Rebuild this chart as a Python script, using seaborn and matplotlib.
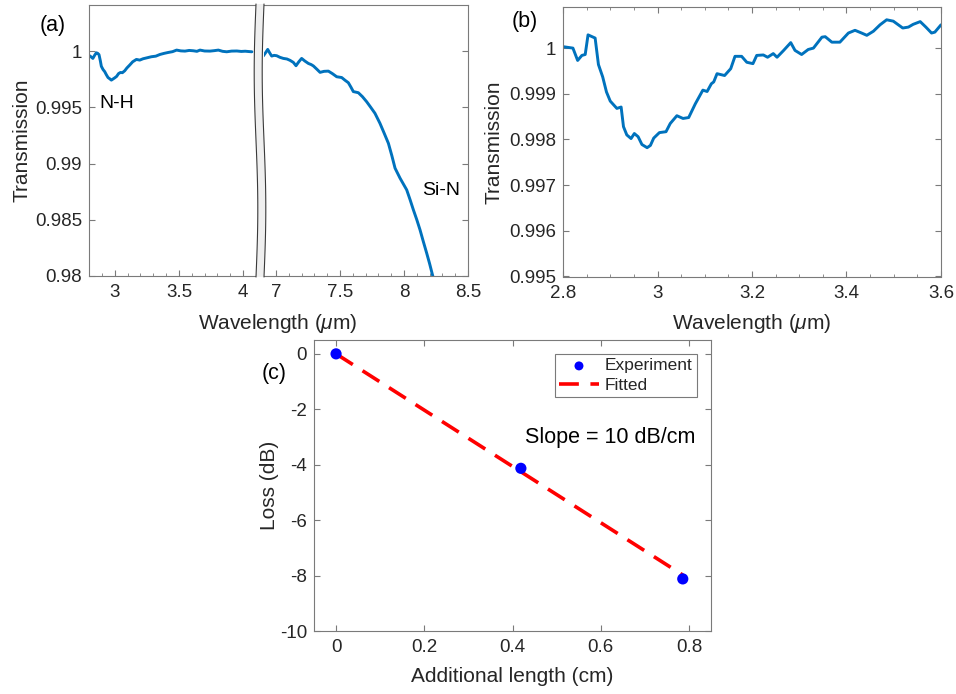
import matplotlib
matplotlib.use('Agg')
import matplotlib.pyplot as plt
from matplotlib.patches import Polygon
from matplotlib.lines import Line2D
from matplotlib.ticker import FuncFormatter, MultipleLocator
import numpy as np
import seaborn as sns

# (a) short-wavelength window (um, transmission)
wl_a1 = [2.80, 2.815, 2.83, 2.845, 2.857, 2.868, 2.878, 2.888, 2.896, 2.91, 2.922, 2.935,
         2.948, 2.96, 2.974, 2.987, 3.0, 3.015, 3.03, 3.045, 3.06, 3.078, 3.095, 3.117,
         3.14, 3.169, 3.195, 3.221, 3.25, 3.286, 3.32, 3.352, 3.385, 3.417, 3.45, 3.482,
         3.515, 3.547, 3.58, 3.612, 3.64, 3.664, 3.7, 3.742, 3.775, 3.807, 3.84, 3.872,
         3.91, 3.951, 3.985, 4.016, 4.045, 4.068]
tr_a1 = [0.99962, 0.99950, 0.99935, 0.99965, 0.99985, 0.99980, 0.99968, 0.99915, 0.99865,
         0.99835, 0.99818, 0.99790, 0.99765, 0.99755, 0.99742, 0.99752, 0.99762, 0.99775,
         0.99800, 0.99810, 0.99808, 0.99825, 0.99850, 0.99876, 0.99905, 0.99926, 0.99920,
         0.99932, 0.99940, 0.99950, 0.99955, 0.99970, 0.99980, 0.99988, 0.99995, 1.00009,
         1.00002, 1.00000, 1.00006, 1.00003, 0.99998, 1.00009, 1.00001, 1.00000, 1.00004,
         1.00009, 0.99998, 0.99994, 1.00000, 1.00001, 0.99997, 0.99999, 0.99996, 0.99994]

# (a) long-wavelength window
wl_a2 = [6.90, 6.918, 6.935, 6.95, 6.966, 6.985, 7.005, 7.03, 7.057, 7.085, 7.109, 7.135,
         7.156, 7.178, 7.2, 7.225, 7.253, 7.275, 7.292, 7.318, 7.344, 7.375, 7.409, 7.44,
         7.474, 7.513, 7.54, 7.565, 7.585, 7.604, 7.643, 7.675, 7.708, 7.74, 7.773, 7.812,
         7.845, 7.878, 7.905, 7.93, 7.969, 8.021, 8.047, 8.073, 8.1, 8.125, 8.15, 8.177,
         8.2, 8.224, 8.25]
tr_a2 = [0.99956, 0.99985, 1.00015, 0.99985, 0.99956, 0.99962, 0.99959, 0.99945, 0.99935,
         0.99930, 0.99918, 0.99900, 0.99870, 0.99905, 0.99935, 0.99912, 0.99890, 0.99880,
         0.99868, 0.99840, 0.99811, 0.99820, 0.99822, 0.99800, 0.99772, 0.99765, 0.99740,
         0.99719, 0.99680, 0.99640, 0.99630, 0.99595, 0.99550, 0.99500, 0.99447, 0.99358,
         0.99270, 0.99180, 0.99070, 0.98959, 0.98870, 0.98766, 0.98680, 0.98589, 0.98500,
         0.98411, 0.98310, 0.98204, 0.98110, 0.98003, 0.97900]

# (b) zoom on the N-H band
wl_b = [2.801, 2.821, 2.831, 2.840, 2.847, 2.853, 2.868, 2.875, 2.884, 2.892, 2.900, 2.914,
        2.923, 2.928, 2.935, 2.944, 2.951, 2.959, 2.967, 2.978, 2.985, 2.992, 3.004, 3.018,
        3.027, 3.041, 3.054, 3.066, 3.080, 3.096, 3.105, 3.114, 3.119, 3.126, 3.142, 3.155,
        3.164, 3.178, 3.189, 3.202, 3.210, 3.224, 3.233, 3.245, 3.253, 3.267, 3.282, 3.291,
        3.305, 3.319, 3.330, 3.348, 3.355, 3.369, 3.386, 3.404, 3.418, 3.432, 3.443, 3.457,
        3.471, 3.485, 3.499, 3.519, 3.531, 3.541, 3.556, 3.568, 3.580, 3.587, 3.600]
tr_b = [1.00003, 1.00000, 0.99973, 0.99984, 0.99986, 1.00029, 1.00022, 0.99964, 0.99937,
        0.99904, 0.99884, 0.99868, 0.99871, 0.99828, 0.99810, 0.99802, 0.99813, 0.99806,
        0.99789, 0.99782, 0.99787, 0.99803, 0.99815, 0.99817, 0.99835, 0.99852, 0.99846,
        0.99848, 0.99878, 0.99908, 0.99905, 0.99922, 0.99926, 0.99944, 0.99940, 0.99955,
        0.99982, 0.99982, 0.99969, 0.99966, 0.99984, 0.99985, 0.99980, 0.99988, 0.99980,
        0.99995, 1.00012, 0.99995, 0.99986, 0.99997, 1.00000, 1.00024, 1.00025, 1.00013,
        1.00013, 1.00033, 1.00039, 1.00033, 1.00028, 1.00037, 1.00051, 1.00062, 1.00059,
        1.00044, 1.00046, 1.00052, 1.00058, 1.00046, 1.00033, 1.00035, 1.00051]

# (c) cut-back loss
len_exp = [0.0, 0.419, 0.786]
loss_exp = [0.0, -4.13, -8.12]
len_fit = [0.0, 0.786]
loss_fit = [0.0, -7.98]

sns.set_style('ticks')
plt.rcParams['font.family'] = ['Liberation Sans', 'DejaVu Sans']
plt.rcParams['mathtext.fontset'] = 'custom'
plt.rcParams['mathtext.rm'] = 'Liberation Sans'
plt.rcParams['mathtext.it'] = 'Liberation Sans:italic'
plt.rcParams['axes.unicode_minus'] = False

W, H = 956, 694
TXT = '#262626'
EDGE = '#7a7a7a'
BLUE = '#0072BD'


def box(x0, y0, x1, y1):
    return [x0 / W, 1 - y1 / H, (x1 - x0) / W, (y1 - y0) / H]


def style(ax, left=True, right=True, top=True):
    for s in ax.spines.values():
        s.set_color(EDGE)
        s.set_linewidth(0.8)
    ax.spines['left'].set_visible(left)
    ax.spines['right'].set_visible(right)
    ax.tick_params(which='both', direction='in', color=EDGE, labelcolor=TXT,
                   labelsize=13.5, top=top, right=right, left=left, bottom=True)
    ax.tick_params(which='major', length=4, width=0.8)
    ax.tick_params(which='minor', length=2.5, width=0.6)
    ax.tick_params(axis='x', pad=6)
    ax.tick_params(axis='y', pad=5)
    fmt = FuncFormatter(lambda v, p: f'{v:g}')
    ax.xaxis.set_major_formatter(fmt)
    ax.yaxis.set_major_formatter(fmt)
    ax.set_facecolor('white')


fig = plt.figure(figsize=(9.56, 6.94), dpi=100)

# ---- panel (a): broken x axis ----
axa1 = fig.add_axes(box(89, 5, 256, 276))
axa2 = fig.add_axes(box(264, 5, 468, 276))
sns.lineplot(x=wl_a1, y=tr_a1, ax=axa1, color=BLUE, lw=2.1, estimator=None, sort=False)
sns.lineplot(x=wl_a2, y=tr_a2, ax=axa2, color=BLUE, lw=2.1, estimator=None, sort=False)
for ax in (axa1, axa2):
    ax.set_ylim(0.98, 1.0041)
    ax.set_yticks([0.98, 0.985, 0.99, 0.995, 1.0])
    ax.xaxis.set_minor_locator(MultipleLocator(0.1))
axa1.set_xlim(2.8, 4.1)
axa1.set_xticks([3, 3.5, 4])
axa2.set_xlim(6.906, 8.5)
axa2.set_xticks([7, 7.5, 8, 8.5])
style(axa1, right=False, top=False)
style(axa2, left=False, top=False)
axa2.tick_params(axis='y', labelleft=False, labelright=False)
axa1.set_ylabel('Transmission', fontsize=15, color=TXT)
axa1.yaxis.set_label_coords(-0.345, 0.5)
axa1.text(2.878, 0.9953, 'N-H', fontsize=14, color='black', va='center', ha='left')
axa2.text(8.14, 0.98763, 'Si-N', fontsize=14, color='black', va='center', ha='left')
fig.text(278 / W, 1 - 312 / H, 'Wavelength ($\\mu$m)', fontsize=15, color=TXT,
         ha='center', va='top')

# break marker: light band with wavy dark sides
t = np.linspace(0, 1, 60)
py = 4 + t * 273
xl = 256 - 1.8 * np.sin(2 * np.pi * t)
xr = xl + 8
pts = np.concatenate([np.column_stack([xl, py]), np.column_stack([xr, py])[::-1]])
pts = np.column_stack([pts[:, 0] / W, 1 - pts[:, 1] / H])
fig.patches.append(Polygon(pts, closed=True, transform=fig.transFigure,
                           facecolor='#efefef', edgecolor='none', zorder=5))
for xe in (xl, xr):
    fig.lines.append(Line2D(xe / W, 1 - py / H, transform=fig.transFigure,
                            color='#3a3a3a', lw=0.8, zorder=6))

# ---- panel (b) ----
axb = fig.add_axes(box(563, 7, 941, 276.5))
sns.lineplot(x=wl_b, y=tr_b, ax=axb, color=BLUE, lw=2.1, estimator=None, sort=False)
axb.set_xlim(2.8, 3.6)
axb.set_ylim(0.995, 1.0009)
axb.set_xticks([2.8, 3.0, 3.2, 3.4, 3.6])
axb.set_yticks([0.995, 0.996, 0.997, 0.998, 0.999, 1.0])
axb.xaxis.set_minor_locator(MultipleLocator(0.05))
style(axb)
axb.set_xlabel('Wavelength ($\\mu$m)', fontsize=15, color=TXT)
axb.xaxis.set_label_coords(0.5, -0.13)
axb.set_ylabel('Transmission', fontsize=15, color=TXT)
axb.yaxis.set_label_coords(-0.158, 0.5)

# ---- panel (c) ----
axc = fig.add_axes(box(314, 340, 711, 631))
sns.scatterplot(x=len_exp, y=loss_exp, ax=axc, color='#0000ff', s=65, edgecolor='none',
                label='Experiment', zorder=4)
sns.lineplot(x=len_fit, y=loss_fit, ax=axc, color='#ff0000', lw=2.6,
             linestyle=(0, (5.5, 3.2)), label='Fitted', zorder=3)
axc.set_xlim(-0.05, 0.85)
axc.set_ylim(-10, 0.5)
axc.set_xticks([0, 0.2, 0.4, 0.6, 0.8])
axc.set_yticks([-10, -8, -6, -4, -2, 0])
style(axc)
axc.set_xlabel('Additional length (cm)', fontsize=15, color=TXT)
axc.xaxis.set_label_coords(0.5, -0.125)
axc.set_ylabel('Loss (dB)', fontsize=15, color=TXT)
axc.yaxis.set_label_coords(-0.088, 0.5)
leg = axc.legend(loc='upper right', bbox_to_anchor=(0.965, 0.952), borderaxespad=0,
                 fontsize=12.5, fancybox=False, framealpha=1, edgecolor=EDGE,
                 handlelength=2.3, handletextpad=0.35, labelspacing=0.25,
                 borderpad=0.25, markerscale=0.8)
leg.get_frame().set_linewidth(0.8)
fig.text(525 / W, 1 - 438 / H, 'Slope = 10 dB/cm', fontsize=15.5, color='black',
         ha='left', va='center')

# panel letters
fig.text(40 / W, 1 - 26 / H, '(a)', fontsize=15.5, color='black', ha='left', va='center')
fig.text(512 / W, 1 - 22 / H, '(b)', fontsize=15.5, color='black', ha='left', va='center')
fig.text(262 / W, 1 - 373 / H, '(c)', fontsize=15.5, color='black', ha='left', va='center')

fig.savefig('out.png', dpi=100, facecolor='white')
